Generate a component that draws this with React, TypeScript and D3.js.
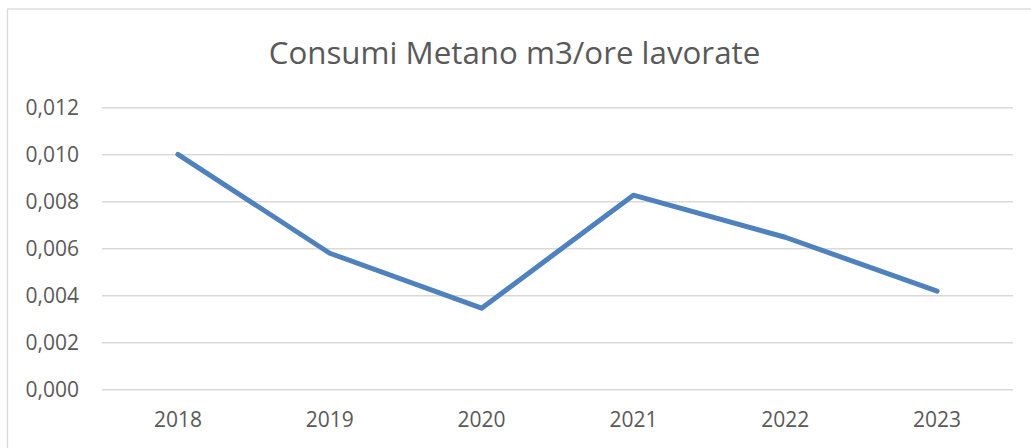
import { axisBottom, axisLeft, line, scaleBand, scaleLinear, select } from "d3";
import { useEffect, useRef } from "react";

const years = ["2018", "2019", "2020", "2021", "2022", "2023"];
const consumi = [0.01, 0.00579, 0.00345, 0.00826, 0.00647, 0.00418];
const yTicks = [0, 0.002, 0.004, 0.006, 0.008, 0.01, 0.012];

const width = 1031;
const height = 448;

export default function App() {
  const ref = useRef<SVGSVGElement>(null);

  useEffect(() => {
    const marginTop = 107.3;
    const marginRight = 18;
    const marginBottom = 58.7;
    const marginLeft = 102;

    const svg = select(ref.current);
    svg.selectAll("*").remove();

    // chart frame (right and bottom edges run off the picture)
    svg.append("rect")
      .attr("x", 7.5)
      .attr("y", 9)
      .attr("width", width + 10)
      .attr("height", height + 10)
      .attr("fill", "#fff")
      .attr("stroke", "#d9d9d9")
      .attr("stroke-width", 1.3);

    svg.append("text")
      .attr("x", 514.5)
      .attr("y", 64)
      .attr("text-anchor", "middle")
      .attr("font-family", "'Open Sans', sans-serif")
      .attr("font-size", 31.3)
      .attr("fill", "#595959")
      .text("Consumi Metano m3/ore lavorate");

    const x = scaleBand()
      .domain(years)
      .range([marginLeft, width - marginRight]);

    const y = scaleLinear()
      .domain([0, 0.012])
      .range([height - marginBottom, marginTop]);

    // y axis: labels + gridlines
    svg.append("g")
      .attr("transform", `translate(${marginLeft},0)`)
      .call(axisLeft(y)
        .tickValues(yTicks)
        .tickSize(-(width - marginRight - marginLeft))
        .tickPadding(23)
        .tickFormat(d => (+d).toFixed(3).replace(".", ",")))
      .call(g => g.select(".domain").remove())
      .call(g => g.selectAll(".tick line").attr("stroke", "#d9d9d9").attr("stroke-width", 1.5))
      .call(g => g.selectAll(".tick text")
        .attr("font-family", "'Open Sans', sans-serif")
        .attr("font-size", 21)
        .attr("fill", "#595959"));

    // x axis
    svg.append("g")
      .attr("transform", `translate(0,${height - marginBottom})`)
      .call(axisBottom(x).tickSize(0).tickPadding(23))
      .call(g => g.select(".domain").remove())
      .call(g => g.selectAll(".tick text")
        .attr("font-family", "'Open Sans', sans-serif")
        .attr("font-size", 21)
        .attr("fill", "#595959"));

    const path = line<number>()
      .x((_, i) => (x(years[i]) ?? 0) + x.bandwidth() / 2)
      .y(d => y(d));

    svg.append("path")
      .datum(consumi)
      .attr("d", path)
      .attr("fill", "none")
      .attr("stroke", "#4f81bd")
      .attr("stroke-width", 5)
      .attr("stroke-linecap", "round")
      .attr("stroke-linejoin", "round");
  }, []);

  return (
    <svg
      ref={ref}
      width={width}
      height={height}
      style={{ position: "absolute", left: 0, top: 0, background: "#fff" }}
    />
  );
}
